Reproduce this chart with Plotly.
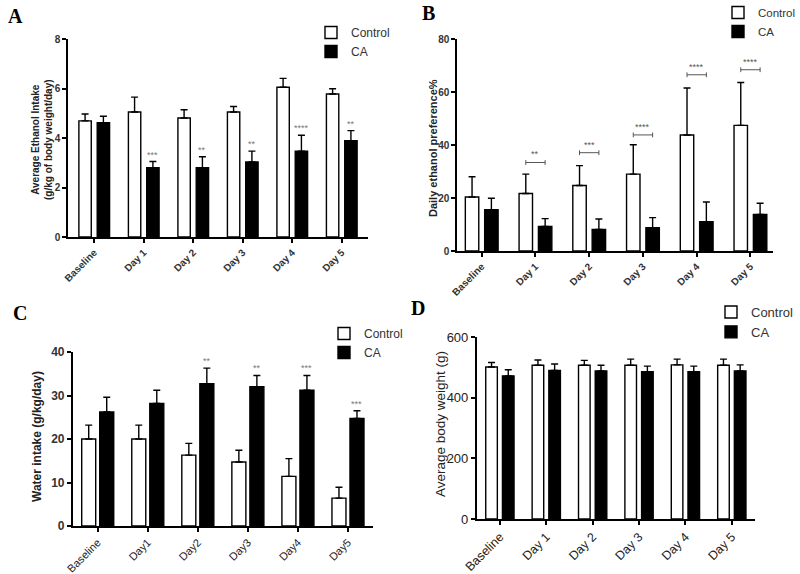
import plotly.graph_objects as go

# ---------------- data ----------------
categories = ["Baseline", "Day 1", "Day 2", "Day 3", "Day 4", "Day 5"]
categories_c = ["Baseline", "Day1", "Day2", "Day3", "Day4", "Day5"]

a_control = [4.69, 5.05, 4.81, 5.05, 6.05, 5.78]
a_control_err = [0.28, 0.60, 0.33, 0.22, 0.36, 0.21]
a_ca = [4.62, 2.80, 2.80, 3.03, 3.47, 3.89]
a_ca_err = [0.26, 0.25, 0.44, 0.44, 0.64, 0.41]
a_stars = ["", "***", "**", "**", "****", "**"]

b_control = [20.4, 21.7, 24.7, 29.0, 43.8, 47.4]
b_control_err = [7.6, 7.3, 7.5, 11.1, 17.7, 16.2]
b_ca = [15.6, 9.3, 8.1, 8.8, 11.1, 13.8]
b_ca_err = [4.3, 2.9, 4.0, 3.8, 7.4, 4.2]
b_bracket = [None, 33.4, 37.1, 43.8, 66.5, 68.4]
b_stars = ["", "**", "***", "****", "****", "****"]

c_control = [20.0, 20.0, 16.3, 14.7, 11.4, 6.4]
c_control_err = [3.2, 3.2, 2.7, 2.7, 4.1, 2.5]
c_ca = [26.2, 28.2, 32.7, 32.0, 31.2, 24.7]
c_ca_err = [3.4, 3.0, 3.6, 2.6, 3.4, 1.8]
c_stars = ["", "", "**", "**", "***", "***"]

d_control = [501, 507, 507, 507, 508, 507]
d_control_err = [15, 17, 16, 20, 19, 20]
d_ca = [472, 490, 488, 486, 486, 488]
d_ca_err = [20, 21, 19, 18, 18, 20]

W, H = 800, 574
SANS = "Liberation Sans, Arial, sans-serif"
SERIF = "Liberation Serif, Times New Roman, serif"


def px(x):
    return x / W


def py(y):
    return 1 - y / H


panels = [
    dict(n="", x0=68, x1=368, y0=237, y1=39, xr=[-0.53, 5.53], yr=[0, 8], dt=2,
         ctrl=a_control, ctrl_e=a_control_err, ca=a_ca, ca_e=a_ca_err, cats=categories,
         bw=0.25, gap=0.12,
         xtick=dict(size=10, weight="bold", color="#333"),
         ytick=dict(size=10, weight="bold", color="#333"), legend="legend"),
    dict(n="2", x0=457, x1=773, y0=251, y1=39, xr=[-0.46, 5.42], yr=[0, 80], dt=20,
         ctrl=b_control, ctrl_e=b_control_err, ca=b_ca, ca_e=b_ca_err, cats=categories,
         bw=0.25, gap=0.11,
         xtick=dict(size=10, weight="bold", color="#333"),
         ytick=dict(size=10, weight="bold", color="#333"), legend="legend2"),
    dict(n="3", x0=72.7, x1=373, y0=526, y1=352, xr=[-0.5, 5.5], yr=[0, 40], dt=10,
         ctrl=c_control, ctrl_e=c_control_err, ca=c_ca, ca_e=c_ca_err, cats=categories_c,
         bw=0.28, gap=0.08,
         xtick=dict(size=11, weight="normal", color="#222"),
         ytick=dict(size=12, weight="bold", color="#333"), legend="legend3"),
    dict(n="4", x0=476.7, x1=755, y0=519, y1=337, xr=[-0.5, 5.5], yr=[0, 600], dt=200,
         ctrl=d_control, ctrl_e=d_control_err, ca=d_ca, ca_e=d_ca_err, cats=categories,
         bw=0.25, gap=0.11,
         xtick=dict(size=12.5, weight="normal", color="#222"),
         ytick=dict(size=13, weight="normal", color="#222"), legend="legend4"),
]

fig = go.Figure()
layout = dict(width=W, height=H, autosize=False,
              margin=dict(l=0, r=0, t=0, b=0, pad=0, autoexpand=False),
              paper_bgcolor="white", plot_bgcolor="white", barmode="overlay",
              font=dict(family=SANS, color="#222"))
annotations = []
shapes = []

idx = list(range(len(categories)))

for p in panels:
    n = p["n"]
    xa, ya = "x" + n, "y" + n
    half = p["gap"] / 2
    ctrl_off = -half - p["bw"]
    ca_off = half
    err_style = dict(type="data", symmetric=False, color="black", thickness=1.4, width=3.5)
    fig.add_trace(go.Bar(
        x=idx, y=p["ctrl"], offset=ctrl_off, width=p["bw"], name="Control",
        marker=dict(color="white", line=dict(color="black", width=1.4)),
        error_y=dict(array=p["ctrl_e"], arrayminus=[0] * 6, **err_style),
        xaxis=xa, yaxis=ya, legend=p["legend"], hoverinfo="skip"))
    fig.add_trace(go.Bar(
        x=idx, y=p["ca"], offset=ca_off, width=p["bw"], name="CA",
        marker=dict(color="black", line=dict(color="black", width=1.4)),
        error_y=dict(array=p["ca_e"], arrayminus=[0] * 6, **err_style),
        xaxis=xa, yaxis=ya, legend=p["legend"], hoverinfo="skip"))

    xkey = "xaxis" + n
    ykey = "yaxis" + n
    layout[xkey] = dict(domain=[px(p["x0"]), px(p["x1"])], anchor=ya, range=p["xr"],
                        tickvals=idx, ticktext=p["cats"], tickangle=-45,
                        showline=True, linecolor="black", linewidth=1.5,
                        ticks="outside", ticklen=4, tickwidth=1.5, tickcolor="black",
                        showgrid=False, zeroline=False, automargin=False,
                        tickfont=dict(family=SANS, **p["xtick"]))
    layout[ykey] = dict(domain=[py(p["y0"]), py(p["y1"])], anchor=xa, range=p["yr"],
                        dtick=p["dt"], tick0=0,
                        showline=True, linecolor="black", linewidth=1.5,
                        ticks="outside", ticklen=4, tickwidth=1.5, tickcolor="black",
                        showgrid=False, zeroline=False, automargin=False,
                        tickfont=dict(family=SANS, **p["ytick"]))
    p["ca_center"] = ca_off + p["bw"] / 2
    p["ctrl_center"] = ctrl_off + p["bw"] / 2

# stars on panel A and C
for p, stars in ((panels[0], a_stars), (panels[2], c_stars)):
    n = p["n"]
    for i, s in enumerate(stars):
        if not s:
            continue
        annotations.append(dict(x=i + p["ca_center"], y=p["ca"][i] + p["ca_e"][i],
                                xref="x" + n, yref="y" + n, text=s, showarrow=False,
                                yanchor="bottom", yshift=0,
                                font=dict(family=SANS, size=9, color="#777")))

# brackets on panel B
pb = panels[1]
for i, h in enumerate(b_bracket):
    if h is None:
        continue
    xl, xr_ = i + pb["ctrl_center"], i + pb["ca_center"]
    line = dict(type="line", xref="x2", yref="y2", line=dict(color="#555", width=1))
    shapes.append(dict(line, x0=xl, x1=xr_, y0=h, y1=h))
    shapes.append(dict(line, x0=xl, x1=xl, y0=h - 0.9, y1=h + 0.9))
    shapes.append(dict(line, x0=xr_, x1=xr_, y0=h - 0.9, y1=h + 0.9))
    annotations.append(dict(x=i, y=h, xref="x2", yref="y2", text=b_stars[i],
                            showarrow=False, yanchor="bottom", yshift=1,
                            font=dict(family=SANS, size=9, color="#555")))

# panel letters
for letter, x, y in (("A", 15, 16), ("B", 428, 13), ("C", 20, 313), ("D", 418, 308)):
    annotations.append(dict(x=px(x), y=py(y), xref="paper", yref="paper", text=letter,
                            showarrow=False, xanchor="center", yanchor="middle",
                            font=dict(family=SERIF, size=20, color="black", weight="bold")))

# y-axis titles
for text, x, y, size, weight in (
        ("Average Ethanol Intake<br>(g/kg of body weight/day)", 42, 140, 10, "bold"),
        ("Daily ethanol preference%", 433, 148, 11, "bold"),
        ("Water intake (g/kg/day)", 37, 437, 12, "bold"),
        ("Average body weight (g)", 440, 424, 13.5, "normal")):
    annotations.append(dict(x=px(x), y=py(y), xref="paper", yref="paper", text=text,
                            showarrow=False, textangle=-90, xanchor="center", yanchor="middle",
                            font=dict(family=SANS, size=size, color="#222", weight=weight)))

legend_base = dict(xanchor="left", yanchor="top", bgcolor="rgba(0,0,0,0)",
                   borderwidth=0, traceorder="normal")
layout["legend"] = dict(legend_base, x=px(311), y=py(18), font=dict(family=SANS, size=12, color="#333"))
layout["legend2"] = dict(legend_base, x=px(718), y=py(-2), font=dict(family=SANS, size=11.5, color="#333"))
layout["legend3"] = dict(legend_base, x=px(324), y=py(319), font=dict(family=SANS, size=12, color="#333"))
layout["legend4"] = dict(legend_base, x=px(711), y=py(297), font=dict(family=SANS, size=13, color="#333"))
layout["showlegend"] = True
layout["annotations"] = annotations
layout["shapes"] = shapes

fig.update_layout(**layout)
fig.write_html("out.html", config={"displayModeBar": False},
               post_script="document.body.style.margin='0px';document.body.style.overflow='hidden';")
